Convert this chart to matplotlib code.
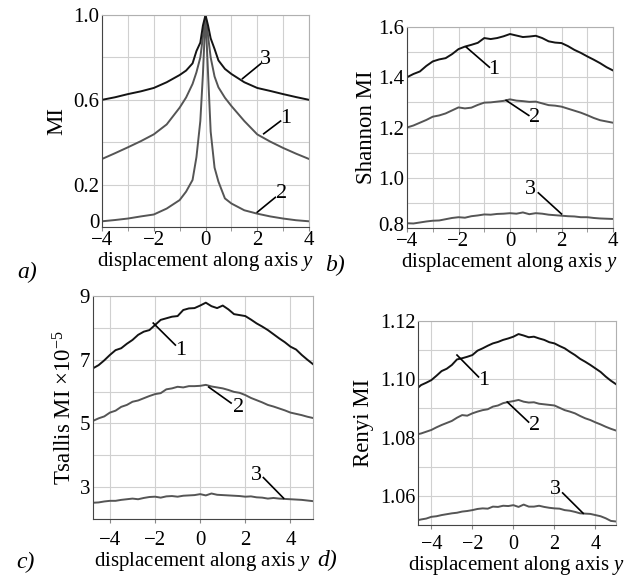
import numpy as np
import matplotlib
matplotlib.use("Agg")
import matplotlib.pyplot as plt
import matplotlib.transforms as mtransforms
from matplotlib.ticker import FixedLocator, FormatStrFormatter

plt.rcParams["font.family"] = ["Liberation Serif", "DejaVu Serif"]
plt.rcParams["mathtext.fontset"] = "custom"
plt.rcParams["mathtext.rm"] = "Liberation Serif"
plt.rcParams["mathtext.it"] = "Liberation Serif:italic"
plt.rcParams["axes.unicode_minus"] = True

# ---- panel a) data ----
x_a = [-4, -3.5, -3, -2.5, -2, -1.5, -1, -0.75, -0.5, -0.35, -0.2, -0.1, 0,
       0.1, 0.2, 0.35, 0.5, 0.75, 1, 1.5, 2, 2.5, 3, 3.5, 4]
a1 = [0.321, 0.348, 0.376, 0.405, 0.437, 0.484, 0.563, 0.611, 0.675, 0.73, 0.80, 0.897, 1.0,
      0.90, 0.80, 0.71, 0.659, 0.61, 0.571, 0.50, 0.437, 0.403, 0.373, 0.346, 0.321]
a2 = [0.027, 0.033, 0.040, 0.050, 0.059, 0.087, 0.127, 0.167, 0.222, 0.33, 0.50, 0.72, 1.0,
      0.72, 0.45, 0.28, 0.214, 0.135, 0.111, 0.079, 0.063, 0.050, 0.040, 0.032, 0.027]
a3 = [0.600, 0.612, 0.627, 0.640, 0.656, 0.683, 0.717, 0.738, 0.772, 0.83, 0.87, 0.95, 1.0,
      0.95, 0.89, 0.84, 0.786, 0.746, 0.722, 0.683, 0.656, 0.642, 0.627, 0.613, 0.600]

# ---- panel b) data (Shannon) ----
x_b = [-4, -3.75, -3.5, -3.25, -3, -2.75, -2.5, -2.25, -2, -1.75, -1.5, -1.25, -1, -0.75,
       -0.5, -0.25, 0, 0.25, 0.5, 0.75, 1, 1.25, 1.5, 1.75, 2, 2.25, 2.5, 2.75, 3, 3.25,
       3.5, 3.75, 4]
b1 = [1.400, 1.413, 1.423, 1.445, 1.463, 1.471, 1.476, 1.492, 1.512, 1.522, 1.529, 1.537,
      1.556, 1.552, 1.556, 1.563, 1.572, 1.566, 1.560, 1.562, 1.565, 1.556, 1.543, 1.538,
      1.536, 1.524, 1.509, 1.497, 1.483, 1.470, 1.456, 1.440, 1.427]
b2 = [1.200, 1.208, 1.219, 1.230, 1.243, 1.248, 1.256, 1.268, 1.280, 1.276, 1.279, 1.290,
      1.299, 1.300, 1.303, 1.306, 1.312, 1.307, 1.305, 1.302, 1.303, 1.296, 1.289, 1.287,
      1.283, 1.275, 1.267, 1.259, 1.249, 1.238, 1.229, 1.224, 1.219]
b3 = [0.819, 0.818, 0.822, 0.826, 0.829, 0.830, 0.835, 0.840, 0.843, 0.841, 0.847, 0.850,
      0.854, 0.853, 0.856, 0.857, 0.859, 0.857, 0.862, 0.855, 0.859, 0.857, 0.853, 0.851,
      0.849, 0.847, 0.846, 0.843, 0.843, 0.840, 0.838, 0.837, 0.836]

# ---- panels c) and d) share displacement values ----
x_cd = [-4.75, -4.5, -4.25, -4, -3.75, -3.5, -3.25, -3, -2.75, -2.5, -2.25, -2, -1.75,
        -1.5, -1.25, -1, -0.75, -0.5, -0.25, 0, 0.25, 0.5, 0.75, 1, 1.25, 1.5, 1.75, 2,
        2.25, 2.5, 2.75, 3, 3.25, 3.5, 3.75, 4, 4.25, 4.5, 4.75, 5.0]
c1 = [6.73, 6.83, 6.98, 7.15, 7.30, 7.36, 7.50, 7.62, 7.78, 7.88, 7.93, 8.09, 8.25, 8.30,
      8.35, 8.37, 8.56, 8.61, 8.62, 8.70, 8.79, 8.68, 8.62, 8.70, 8.58, 8.43, 8.40, 8.37,
      8.26, 8.14, 8.04, 7.93, 7.80, 7.67, 7.55, 7.41, 7.32, 7.15, 7.00, 6.86]
c2 = [5.08, 5.16, 5.22, 5.34, 5.40, 5.52, 5.58, 5.68, 5.72, 5.79, 5.86, 5.92, 5.95, 6.07,
      6.10, 6.15, 6.13, 6.17, 6.17, 6.18, 6.21, 6.16, 6.13, 6.10, 6.05, 5.99, 5.96, 5.89,
      5.80, 5.73, 5.66, 5.58, 5.53, 5.47, 5.41, 5.34, 5.30, 5.26, 5.21, 5.17]
c3 = [2.51, 2.52, 2.55, 2.57, 2.57, 2.60, 2.62, 2.64, 2.62, 2.66, 2.69, 2.70, 2.67, 2.71,
      2.72, 2.70, 2.73, 2.74, 2.75, 2.78, 2.74, 2.80, 2.76, 2.75, 2.74, 2.73, 2.72, 2.70,
      2.71, 2.68, 2.67, 2.64, 2.66, 2.64, 2.63, 2.62, 2.61, 2.60, 2.58, 2.56]
d1 = [1.0965, 1.0980, 1.0988, 1.0997, 1.1012, 1.1028, 1.1036, 1.1049, 1.1068, 1.1072,
      1.1077, 1.1083, 1.1098, 1.1106, 1.1115, 1.1123, 1.1128, 1.1135, 1.1140, 1.1146,
      1.1155, 1.1150, 1.1144, 1.1146, 1.1140, 1.1135, 1.1127, 1.1123, 1.1114, 1.1106,
      1.1094, 1.1083, 1.1070, 1.1060, 1.1049, 1.1037, 1.1025, 1.1009, 1.0995, 1.0983]
d2 = [1.0810, 1.0814, 1.0820, 1.0826, 1.0835, 1.0843, 1.0850, 1.0857, 1.0868, 1.0877,
      1.0875, 1.0883, 1.0889, 1.0894, 1.0897, 1.0906, 1.0910, 1.0918, 1.0922, 1.0925,
      1.0929, 1.0923, 1.0920, 1.0921, 1.0916, 1.0914, 1.0912, 1.0910, 1.0902, 1.0894,
      1.0889, 1.0883, 1.0874, 1.0866, 1.0860, 1.0852, 1.0845, 1.0837, 1.0830, 1.0824]
d3 = [1.0515, 1.0519, 1.0522, 1.0528, 1.0530, 1.0534, 1.0537, 1.0540, 1.0542, 1.0546,
      1.0548, 1.0551, 1.0555, 1.0557, 1.0556, 1.0563, 1.0562, 1.0566, 1.0565, 1.0568,
      1.0562, 1.0570, 1.0563, 1.0563, 1.0566, 1.0562, 1.0559, 1.0557, 1.0556, 1.0551,
      1.0549, 1.0545, 1.0540, 1.0539, 1.0538, 1.0534, 1.0530, 1.0523, 1.0514, 1.0512]

DARK = "#141414"
GRAY = "#555555"
TICK_FS = 15
XLAB_FS = 15
YLAB_FS = 16.5
NUM_FS = 16
XLABEL = "displacement along axis $\\mathit{y}$"


def style(ax, xlim, xmajor, xminor, ylim, ymajor, yminor, yfmt, tick_fs=TICK_FS, xpad=0):
    ax.set_xlim(*xlim)
    ax.set_ylim(*ylim)
    ax.xaxis.set_major_locator(FixedLocator(xmajor))
    ax.xaxis.set_minor_locator(FixedLocator(xminor))
    ax.yaxis.set_major_locator(FixedLocator(ymajor))
    ax.yaxis.set_minor_locator(FixedLocator(yminor))
    ax.yaxis.set_major_formatter(FormatStrFormatter(yfmt))
    ax.grid(True, which="both", color="#d0d0d0", lw=0.8)
    ax.set_axisbelow(True)
    ax.tick_params(which="both", length=3, color="#888888", labelsize=tick_fs, pad=xpad)
    ax.tick_params(axis="y", which="both", length=0, pad=2)
    for side in ("left", "bottom"):
        ax.spines[side].set_color("#444444")
    for side in ("top", "right"):
        ax.spines[side].set_color("#b0b0b0")
    ax.set_xlabel(XLABEL, fontsize=XLAB_FS, labelpad=0)


def lift_bottom_ylabel(ax, fig, pts=3):
    # the lowest y label sits right on top of the "-4" x label; nudge it up a little
    lab = ax.get_yticklabels()[0]
    lab.set_transform(lab.get_transform() +
                      mtransforms.ScaledTranslation(0, pts / 72, fig.dpi_scale_trans))


def tag(ax, txt, tx, ty, lx0, ly0, lx1, ly1):
    ax.plot([lx0, lx1], [ly0, ly1], color="black", lw=1.2)
    ax.text(tx, ty, txt, fontsize=NUM_FS, ha="center", va="center")


fig = plt.figure(figsize=(6.25, 5.83), dpi=100)

# a)
ax = fig.add_axes([0.1632, 0.6106, 0.3312, 0.3636])
ax.plot(x_a, a1, color=GRAY, lw=1.4)
ax.plot(x_a, a2, color=GRAY, lw=1.4)
ax.plot(x_a, a3, color=DARK, lw=1.4)
style(ax, (-4, 4), [-4, -2, 0, 2, 4], [-3, -1, 1, 3], (0, 1.0),
      [0, 0.2, 0.6, 1.0], [0.4, 0.8], "%.1f")
ax.set_yticklabels(["0", "0.2", "0.6", "1.0"])
lift_bottom_ylabel(ax, fig, 4)
ax.set_ylabel("MI", fontsize=YLAB_FS, labelpad=4)
tag(ax, "3", 2.3, 0.79, 1.43, 0.70, 2.13, 0.77)
tag(ax, "1", 3.1, 0.51, 2.25, 0.44, 2.9, 0.50)
tag(ax, "2", 2.95, 0.16, 2.0, 0.07, 2.7, 0.14)

# b)
ax = fig.add_axes([0.6512, 0.6089, 0.3296, 0.3448])
ax.plot(x_b, b1, color=DARK, lw=1.4)
ax.plot(x_b, b2, color=GRAY, lw=1.4)
ax.plot(x_b, b3, color=GRAY, lw=1.4)
style(ax, (-4, 4), [-4, -2, 0, 2, 4], [-3, -1, 1, 3], (0.8, 1.6),
      [0.8, 1.0, 1.2, 1.4, 1.6], [0.9, 1.1, 1.3, 1.5], "%.1f")
lift_bottom_ylabel(ax, fig, 3)
ax.set_ylabel("Shannon MI", fontsize=YLAB_FS, labelpad=1)
tag(ax, "1", -0.65, 1.43, -1.7, 1.52, -0.8, 1.44)
tag(ax, "2", 0.95, 1.24, -0.15, 1.308, 0.73, 1.248)
tag(ax, "3", 0.8, 0.955, 1.1, 0.94, 2.0, 0.856)

# c)
ax = fig.add_axes([0.1488, 0.1098, 0.352, 0.3825])
ax.plot(x_cd, c1, color=DARK, lw=1.4)
ax.plot(x_cd, c2, color=GRAY, lw=1.4)
ax.plot(x_cd, c3, color=GRAY, lw=1.4)
style(ax, (-4.75, 5.0), [-4, -2, 0, 2, 4], [], (2, 9),
      [3, 5, 7, 9], [2, 4, 6, 8], "%d", xpad=6)
ax.set_ylabel("Tsallis MI \u00d710$^{-5}$", fontsize=YLAB_FS, labelpad=2)
tag(ax, "1", -0.85, 7.30, -2.08, 8.15, -1.1, 7.46)
tag(ax, "2", 1.7, 5.5, 0.38, 6.14, 1.37, 5.64)
tag(ax, "3", 2.5, 3.38, 2.8, 3.3, 3.7, 2.65)

# d)
ax = fig.add_axes([0.6688, 0.0995, 0.3168, 0.35])
ax.plot(x_cd, d1, color=DARK, lw=1.4)
ax.plot(x_cd, d2, color=GRAY, lw=1.4)
ax.plot(x_cd, d3, color=GRAY, lw=1.4)
style(ax, (-4.65, 5.0), [-4, -2, 0, 2, 4], [], (1.05, 1.12),
      [1.06, 1.08, 1.10, 1.12], [1.05, 1.07, 1.09, 1.11], "%.2f", tick_fs=14.5, xpad=4)
ax.set_ylabel("Renyi MI", fontsize=YLAB_FS, labelpad=4)
tag(ax, "1", -1.45, 1.0997, -2.75, 1.1083, -1.7, 1.1008)
tag(ax, "2", 1.05, 1.0843, -0.3, 1.0922, 0.74, 1.0853)
tag(ax, "3", 2.05, 1.0622, 2.4, 1.0610, 3.4, 1.0540)

# panel letters
for txt, px, py in [("a)", 27, 272), ("b)", 335, 265), ("c)", 25, 562), ("d)", 327, 560)]:
    fig.text(px / 625, 1 - py / 583, txt, fontsize=17, style="italic",
             ha="center", va="center")

fig.savefig("out.png", dpi=100)
